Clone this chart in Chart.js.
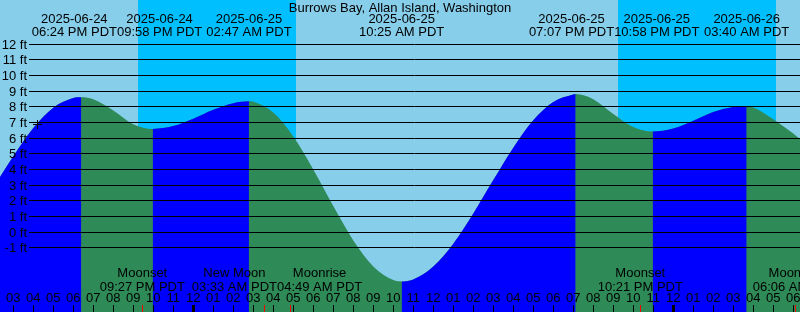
<!DOCTYPE html>
<html>
<head>
<meta charset="utf-8">
<script src="https://cdn.jsdelivr.net/npm/chart.js@4"></script>
<style>
  body { margin: 0; background: #87ceeb; }
  canvas { display: block; }
</style>
</head>
<body>
<canvas id="tideChart" width="800" height="312"></canvas>
<script>
// all times are hours after 2025-06-24 03:00 PM PDT
const tideHours = [-1, 0, 1, 2, 3, 3.4, 4, 5, 6, 6.967, 8, 9, 10, 11, 11.783, 12, 13, 14, 15, 16, 17, 18, 19, 19.417,
    20, 21, 22, 23, 24, 25, 26, 27, 28, 28.117, 29, 30, 31, 31.967, 33, 34, 35, 36, 36.667, 37, 38, 39, 40];
const tideFeet = [2.85, 4.85, 6.65, 7.95, 8.57, 8.62, 8.50, 7.78, 6.90, 6.60, 6.78, 7.25, 7.82, 8.24, 8.36, 8.33, 7.64, 6.12, 4.01, 1.67, -0.52, -2.18, -3.05, -3.14,
    -3.01, -2.19, -0.73, 1.20, 3.33, 5.40, 7.15, 8.32, 8.80, 8.83, 8.50, 7.55, 6.72, 6.43, 6.62, 7.12, 7.68, 8.00, 8.06, 7.97, 7.22, 6.30, 5.25];

const extremeHours = [3.4, 6.967, 11.783, 19.417, 28.117, 31.967, 36.667];
const extremeDates = ['2025-06-24', '2025-06-24', '2025-06-25', '2025-06-25', '2025-06-25', '2025-06-25', '2025-06-26'];
const extremeClock = ['06:24 PM PDT', '09:58 PM PDT', '02:47 AM PDT', '10:25 AM PDT', '07:07 PM PDT', '10:58 PM PDT', '03:40 AM PDT'];

const moonHours = [6.45, 12.55, 13.817, 31.35, 39.1];
const moonNames = ['Moonset', 'New Moon', 'Moonrise', 'Moonset', 'Moonrise'];
const moonClock = ['09:27 PM PDT', '03:33 AM PDT', '04:49 AM PDT', '10:21 PM PDT', '06:06 AM PDT'];

const nightStart = [6.233, 30.233];
const nightEnd = [14.133, 38.133];

const hourLabels = ['03', '04', '05', '06', '07', '08', '09', '10', '11', '12', '01', '02', '03', '04', '05', '06', '07', '08', '09', '10',
    '11', '12', '01', '02', '03', '04', '05', '06', '07', '08', '09', '10', '11', '12', '01', '02', '03', '04', '05', '06'];
const midnightHours = [9, 33];
const footTicks = [-1, 0, 1, 2, 3, 4, 5, 6, 7, 8, 9, 10, 11, 12];

const markerHour = [1.21];
const markerFeet = [6.88];

const title = 'Burrows Bay, Allan Island, Washington';
const FONT = '13px "Liberation Sans", Arial, sans-serif';

function tidePoints() {
    return tideHours.map((h, i) => ({ x: h, y: tideFeet[i] }));
}

// push overlapping neighbours apart, like xtide does
function spread(centers, widths) {
    const c = centers.slice();
    for (let i = 1; i < c.length; i++) {
        const need = (widths[i - 1] + widths[i]) / 2;
        const gap = c[i] - c[i - 1];
        if (gap < need) {
            const d = (need - gap) / 2;
            c[i - 1] -= d;
            c[i] += d;
        }
    }
    return c;
}

// two-line label blocks, centred on the event unless they collide
function drawBlocks(ctx, scale, hours, top, bottom, y1, y2) {
    const widths = hours.map((h, i) => Math.max(ctx.measureText(top[i]).width, ctx.measureText(bottom[i]).width));
    const xs = spread(hours.map(h => scale.getPixelForValue(h)), widths);
    xs.forEach((px, i) => {
        ctx.fillText(top[i], px, y1);
        ctx.fillText(bottom[i], px, y2);
    });
}

const tideDecor = {
    id: 'tideDecor',
    beforeDraw(chart) {
        const { ctx, scales: { x } } = chart;
        ctx.save();
        ctx.fillStyle = '#87ceeb';
        ctx.fillRect(0, 0, chart.width, chart.height);
        ctx.fillStyle = '#00bfff';
        nightStart.forEach((s, i) => {
            const x0 = Math.round(x.getPixelForValue(s));
            const x1 = Math.round(x.getPixelForValue(nightEnd[i]));
            ctx.fillRect(x0, 0, x1 - x0, chart.height);
        });
        ctx.restore();
    },
    afterDraw(chart) {
        const { ctx, scales: { x, y } } = chart;
        const W = chart.width, H = chart.height;
        ctx.save();
        ctx.font = FONT;
        ctx.fillStyle = '#000';
        ctx.strokeStyle = '#000';
        ctx.lineWidth = 1;

        // depth lines and labels
        ctx.textAlign = 'right';
        footTicks.forEach(v => {
            const py = Math.floor(y.getPixelForValue(v)) + 0.5;
            ctx.beginPath();
            ctx.moveTo(29, py);
            ctx.lineTo(W, py);
            ctx.stroke();
            ctx.fillText(v + ' ft', 27, py + 4);
        });

        // hour ticks along the bottom
        hourLabels.forEach((lab, i) => {
            const px = Math.round(x.getPixelForValue(i));
            const wide = midnightHours.includes(i);
            ctx.fillRect(px - (wide ? 1 : 0), H - 7, wide ? 3 : 1, 7);
        });
        ctx.fillStyle = '#ff0000';
        moonHours.forEach(h => {
            const px = Math.round(x.getPixelForValue(h));
            ctx.fillRect(px, H - 7, 1, 7);
        });
        ctx.fillStyle = '#000';
        ctx.textAlign = 'center';
        hourLabels.forEach((lab, i) => {
            ctx.fillText(lab, x.getPixelForValue(i), 302);
        });

        drawBlocks(ctx, x, moonHours, moonNames, moonClock, 276.5, 290.5);
        drawBlocks(ctx, x, extremeHours, extremeDates, extremeClock, 23, 36);

        ctx.fillText(title, W / 2, 11.5);
        ctx.restore();
    }
};

const fillStyle = {
    fill: 'start',
    borderColor: 'transparent',
    borderWidth: 0,
    pointRadius: 0,
    cubicInterpolationMode: 'monotone',
};

const chart = new Chart(document.getElementById('tideChart').getContext('2d'), {
    type: 'line',
    data: {
        datasets: [
            {
                ...fillStyle,
                label: 'Falling',
                data: tidePoints(),
                backgroundColor: '#2e8b57',
                order: 2,
            },
            {
                ...fillStyle,
                label: 'Rising',
                data: tidePoints(),
                backgroundColor: '#0000ff',
                order: 1,
                segment: {
                    backgroundColor: c => c.p1.parsed.y > c.p0.parsed.y ? '#0000ff' : 'transparent',
                },
            },
            {
                type: 'scatter',
                label: 'Now',
                data: markerHour.map((h, i) => ({ x: h, y: markerFeet[i] })),
                pointStyle: 'cross',
                pointRadius: 4.5,
                borderColor: '#000',
                borderWidth: 1,
                order: 0,
            },
        ],
    },
    options: {
        responsive: false,
        devicePixelRatio: 1,
        animation: false,
        events: [],
        layout: { padding: 0, autoPadding: false },
        scales: {
            x: { type: 'linear', min: -0.665, max: 39.335, display: false },
            y: { min: -5.09, max: 14.83, display: false },
        },
        plugins: {
            legend: { display: false },
            tooltip: { enabled: false },
        },
    },
    plugins: [tideDecor],
});
</script>
</body>
</html>
